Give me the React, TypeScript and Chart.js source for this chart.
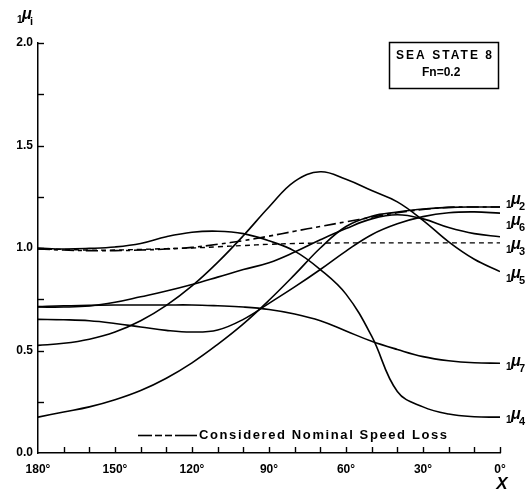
import React, { useEffect, useRef } from "react";
import { Chart, registerables } from "chart.js";

Chart.register(...registerables);

// Heading angle chi (degrees)
const headings = [180, 170, 160, 150, 140, 130, 120, 110, 100, 90, 80, 70, 60, 50, 40, 30, 20, 10, 0];

// Series values
const mu2 = [0.175, 0.2, 0.225, 0.26, 0.305, 0.365, 0.44, 0.53, 0.63, 0.745, 0.87, 1.0, 1.105, 1.155, 1.175, 1.19, 1.198, 1.2, 1.2];
const mu6 = [0.652, 0.65, 0.645, 0.632, 0.615, 0.598, 0.59, 0.6, 0.652, 0.73, 0.81, 0.895, 0.985, 1.065, 1.118, 1.153, 1.172, 1.176, 1.17];
const mu3 = [0.712, 0.712, 0.717, 0.735, 0.762, 0.79, 0.822, 0.858, 0.895, 0.928, 0.98, 1.04, 1.095, 1.142, 1.162, 1.142, 1.1, 1.07, 1.055];
const mu5 = [0.525, 0.535, 0.555, 0.59, 0.645, 0.72, 0.815, 0.93, 1.06, 1.2, 1.325, 1.372, 1.335, 1.28, 1.225, 1.135, 1.03, 0.945, 0.885];
const mu7 = [0.714, 0.718, 0.72, 0.722, 0.722, 0.722, 0.722, 0.718, 0.712, 0.7, 0.678, 0.645, 0.595, 0.545, 0.505, 0.47, 0.45, 0.44, 0.438];
const mu4 = [1.0, 0.995, 0.998, 1.005, 1.022, 1.055, 1.077, 1.082, 1.07, 1.035, 0.985, 0.895, 0.775, 0.57, 0.3, 0.225, 0.19, 0.177, 0.175];
const longDash = [0.995, 0.99, 0.987, 0.987, 0.99, 0.995, 1.003, 1.018, 1.036, 1.058, 1.082, 1.105, 1.128, 1.15, 1.172, 1.188, 1.198, 1.2, 1.2];
const nominal = [0.995, 0.993, 0.99, 0.99, 0.993, 0.997, 1.0, 1.006, 1.012, 1.018, 1.022, 1.024, 1.025, 1.025, 1.025, 1.025, 1.025, 1.025, 1.025];

const xTickLabels = [180, 150, 120, 90, 60, 30, 0];
const yTickLabels = [0, 0.5, 1.0, 1.5, 2.0];

const boxLines = ["SEA STATE 8", "Fn=0.2"];
const legendText = "Considered Nominal Speed Loss";

const FONT = "'Liberation Sans', Arial, sans-serif";

type LabelSpec = { key: string; sub: string; dy: number };
const curveLabels: LabelSpec[] = [
  { key: "mu2", sub: "2", dy: -7 },
  { key: "mu6", sub: "6", dy: 8 },
  { key: "mu3", sub: "3", dy: 8 },
  { key: "mu5", sub: "5", dy: 2 },
  { key: "mu7", sub: "7", dy: -1 },
  { key: "mu4", sub: "4", dy: -2 },
];

function toPts(arr: number[]) {
  return headings.map((x, i) => ({ x, y: arr[i] }));
}

function drawFitted(ctx: CanvasRenderingContext2D, text: string, x: number, y: number, width: number) {
  (ctx as any).letterSpacing = "0px";
  const w0 = ctx.measureText(text).width;
  const sp = Math.max(0, (width - w0) / Math.max(1, text.length - 1));
  (ctx as any).letterSpacing = sp.toFixed(2) + "px";
  ctx.textAlign = "left";
  ctx.fillText(text, x, y);
  (ctx as any).letterSpacing = "0px";
}

function drawMu(ctx: CanvasRenderingContext2D, x: number, y: number, pre: string, sub: string) {
  ctx.fillStyle = "#000";
  ctx.textAlign = "left";
  ctx.textBaseline = "alphabetic";
  ctx.font = `bold 10px ${FONT}`;
  ctx.fillText(pre, x, y + 8);
  ctx.font = `italic bold 16px ${FONT}`;
  ctx.fillText("\u03bc", x + 5, y + 4);
  ctx.font = `bold 11px ${FONT}`;
  ctx.fillText(sub, x + 13, y + 10);
}

const decorPlugin = {
  id: "decor",
  afterDraw(chart: any) {
    const ctx: CanvasRenderingContext2D = chart.ctx;
    const xs = chart.scales.x;
    const ys = chart.scales.y;
    const area = chart.chartArea;
    ctx.save();
    ctx.strokeStyle = "#000";
    ctx.fillStyle = "#000";
    ctx.lineWidth = 1.4;
    // inward ticks on y axis
    for (let v = 0.25; v <= 2.0001; v += 0.25) {
      const py = Math.round(ys.getPixelForValue(v)) + 0.5;
      ctx.beginPath();
      ctx.moveTo(area.left, py);
      ctx.lineTo(area.left + 6, py);
      ctx.stroke();
    }
    // inward ticks on x axis
    for (let d = 170; d >= 0; d -= 10) {
      const px = Math.round(xs.getPixelForValue(d)) + 0.5;
      ctx.beginPath();
      ctx.moveTo(px, area.bottom);
      ctx.lineTo(px, area.bottom - 6);
      ctx.stroke();
    }
    // box
    ctx.lineWidth = 1.5;
    ctx.strokeRect(389.5, 42.5, 109, 46);
    ctx.font = `bold 12px ${FONT}`;
    ctx.textBaseline = "middle";
    drawFitted(ctx, boxLines[0], 396, 56, 96);
    drawFitted(ctx, boxLines[1], 422, 73, 38);
    // legend line
    ctx.lineWidth = 1.6;
    const ly = 435.5;
    const segs = [[138, 152], [155, 162], [165, 172], [175, 197]];
    segs.forEach(([a, b]) => {
      ctx.beginPath();
      ctx.moveTo(a, ly);
      ctx.lineTo(b, ly);
      ctx.stroke();
    });
    ctx.font = `bold 13px ${FONT}`;
    ctx.textBaseline = "middle";
    drawFitted(ctx, legendText, 199, 435, 248);
    // curve labels at right end
    curveLabels.forEach((l) => {
      const ds = chart.data.datasets.find((d: any) => d.key === l.key);
      if (!ds) return;
      const last = ds.data[ds.data.length - 1];
      const py = ys.getPixelForValue(last.y) + l.dy;
      drawMu(ctx, area.right + 6, py, "1", l.sub);
    });
    // y axis title (top-left)
    drawMu(ctx, 17, 15, "1", "i");
    // x axis title
    ctx.font = `italic bold 17px ${FONT}`;
    ctx.textAlign = "center";
    ctx.textBaseline = "middle";
    ctx.fillText("X", area.right + 2, 484);
    ctx.restore();
  },
};

export default function App() {
  const ref = useRef<HTMLCanvasElement | null>(null);
  useEffect(() => {
    if (!ref.current) return;
    const lineBase = {
      borderColor: "#000",
      borderWidth: 1.6,
      pointRadius: 0,
      fill: false,
      tension: 0.4,
    };
    const chart = new Chart(ref.current, {
      type: "line",
      data: {
        datasets: [
          { ...lineBase, key: "mu2", data: toPts(mu2) },
          { ...lineBase, key: "mu6", data: toPts(mu6) },
          { ...lineBase, key: "mu3", data: toPts(mu3) },
          { ...lineBase, key: "mu5", data: toPts(mu5) },
          { ...lineBase, key: "mu7", data: toPts(mu7) },
          { ...lineBase, key: "mu4", data: toPts(mu4) },
          { ...lineBase, key: "longdash", borderDash: [12, 4, 4, 4], data: toPts(longDash) },
          { ...lineBase, key: "nominal", borderWidth: 1.4, borderDash: [5, 4], data: toPts(nominal) },
        ] as any,
      },
      options: {
        animation: false,
        responsive: false,
        maintainAspectRatio: false,
        layout: { padding: { top: 43, right: 30, left: 0, bottom: 0 } },
        plugins: { legend: { display: false }, tooltip: { enabled: false } },
        scales: {
          x: {
            type: "linear",
            reverse: true,
            min: 0,
            max: 180,
            afterFit: (s: any) => { s.height = 46; },
            grid: { display: false, drawTicks: false },
            border: { display: true, color: "#000", width: 1.5 },
            afterBuildTicks: (s: any) => { s.ticks = xTickLabels.map((v) => ({ value: v })); },
            ticks: {
              autoSkip: false,
              maxRotation: 0,
              padding: 9,
              color: "#000",
              font: { family: FONT, size: 12, weight: "bold" },
              callback: (v: any) => `${v}\u00b0`,
            },
          },
          y: {
            type: "linear",
            min: 0,
            max: 2,
            afterFit: (s: any) => { s.width = 38; },
            grid: { display: false, drawTicks: false },
            border: { display: true, color: "#000", width: 1.5 },
            afterBuildTicks: (s: any) => { s.ticks = yTickLabels.map((v) => ({ value: v })); },
            ticks: {
              padding: 5,
              color: "#000",
              font: { family: FONT, size: 12, weight: "bold" },
              callback: (v: any) => Number(v).toFixed(1),
            },
          },
        },
      } as any,
      plugins: [decorPlugin],
    });
    return () => chart.destroy();
  }, []);
  return (
    <div style={{ position: "fixed", left: 0, top: 0, width: 530, height: 499, background: "#fff" }}>
      <canvas ref={ref} width={530} height={499} style={{ width: 530, height: 499, display: "block" }} />
    </div>
  );
}
